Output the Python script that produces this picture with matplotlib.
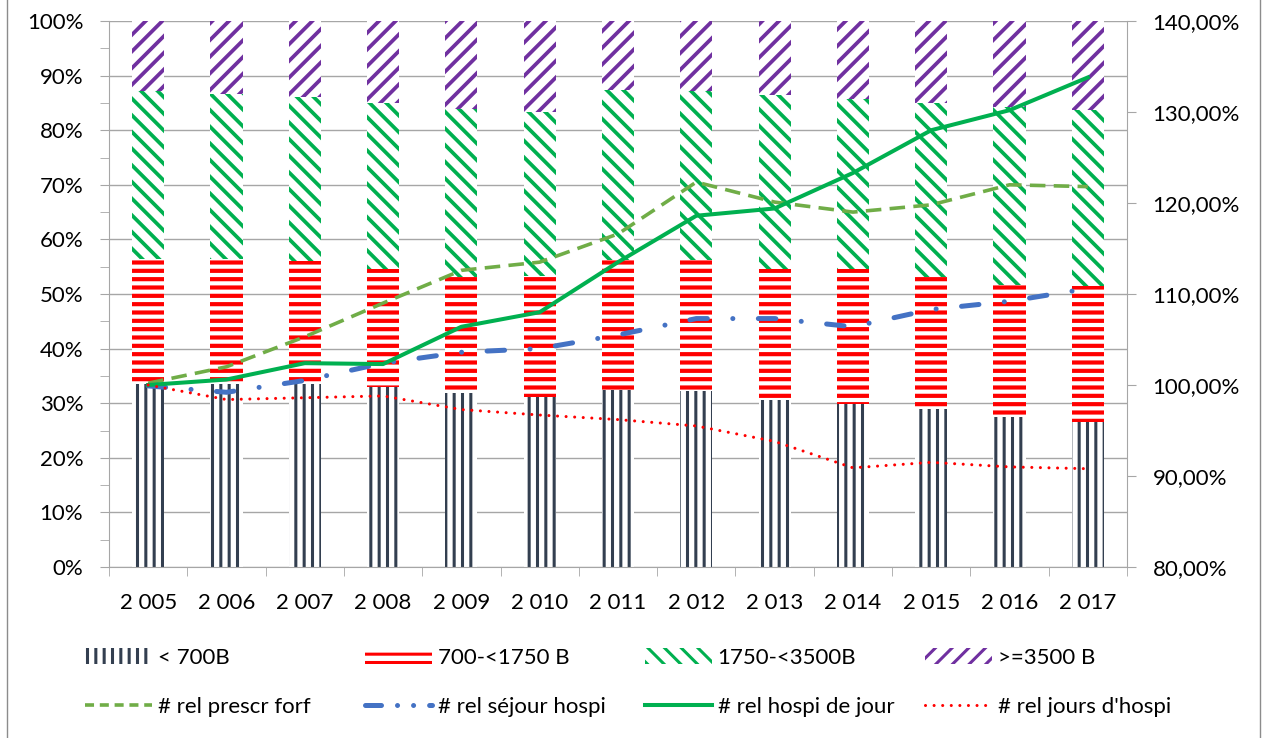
import matplotlib
matplotlib.use('Agg')
import matplotlib.pyplot as plt
from matplotlib.patches import Patch
from matplotlib.lines import Line2D
import numpy as np

plt.rcParams['font.family'] = ['Lato', 'DejaVu Sans']
plt.rcParams['hatch.linewidth'] = 2.2

annees = ['2 005', '2 006', '2 007', '2 008', '2 009', '2 010', '2 011',
          '2 012', '2 013', '2 014', '2 015', '2 016', '2 017']

# parts des classes (en %)
moins700 = [33.5, 33.5, 33.5, 33.0, 31.8, 31.1, 32.4, 32.2, 30.5, 29.9, 28.9, 27.4, 26.6]
de700 = [22.9, 22.9, 22.6, 21.6, 21.4, 22.2, 23.8, 24.0, 24.1, 24.7, 24.3, 24.2, 24.9]
de1750 = [30.8, 30.2, 29.9, 30.4, 30.6, 30.0, 31.2, 31.0, 31.8, 31.2, 31.8, 32.7, 32.2]
plus3500 = [12.8, 13.4, 14.0, 15.0, 16.2, 16.7, 12.6, 12.8, 13.6, 14.2, 15.0, 15.7, 16.3]

# indices relatifs (en %)
rel_prescr = [100.2, 102.0, 105.3, 109.0, 112.6, 113.5, 116.6, 122.3, 120.1, 119.0, 119.8, 122.0, 121.8]
rel_sejour = [99.9, 99.2, 100.5, 102.4, 103.6, 104.0, 105.5, 107.3, 107.3, 106.4, 108.3, 109.2, 110.6]
rel_jour = [100.0, 100.6, 102.4, 102.3, 106.4, 108.0, 113.5, 118.6, 119.4, 123.3, 128.0, 130.2, 133.8]
rel_jours_hospi = [100.0, 98.4, 98.6, 98.8, 97.3, 96.7, 96.2, 95.5, 93.8, 90.9, 91.5, 91.0, 90.8]

noms_barres = ['< 700B', '700-<1750 B', '1750-<3500B', '>=3500 B']
couleurs_barres = ['#333F50', '#FF0000', '#00B050', '#7030A0']
hachures = ['||', '--', '\\\\', '//']
epaisseurs = [2.2, 3.0, 2.7, 2.7]

def hachure_ep(p, ep):
    if hasattr(p, 'set_hatch_linewidth'):
        p.set_hatch_linewidth(ep)

fig = plt.figure(figsize=(12.63, 7.38), dpi=100)
ax = fig.add_axes([109/1263, 171/738, 1018/1263, 546/738])
ax2 = ax.twinx()

x = np.arange(len(annees))
bas = np.zeros(len(annees))
for vals, c, h, ep in zip([moins700, de700, de1750, plus3500], couleurs_barres, hachures, epaisseurs):
    b = ax.bar(x, vals, 0.41, bottom=bas, facecolor='white', edgecolor=c,
               hatch=h, linewidth=0, zorder=2)
    for p in b:
        hachure_ep(p, ep)
    bas = bas + np.array(vals)

grille = '#A6A6A6'
fs = 16
ax.set_xlim(-0.5, len(annees) - 0.5)
ax.set_ylim(0, 100)
ax.set_yticks(np.arange(0, 101, 10))
ax.set_yticks(np.arange(5, 100, 10), minor=True)
ax.set_yticklabels(['%d%%' % v for v in range(0, 101, 10)], fontsize=fs)
ax.yaxis.grid(True, color=grille, linewidth=1)
ax.set_axisbelow(True)
ax.tick_params(axis='y', which='both', direction='out', length=6.5, color=grille, pad=12)
ax.set_xticks(x)
ax.set_xticklabels(annees, fontsize=fs)
ax.set_xticks(np.arange(-0.5, len(annees), 1), minor=True)
ax.tick_params(axis='x', which='major', length=0, pad=19)
ax.tick_params(axis='x', which='minor', direction='out', length=6.5, color=grille)
for s in ['top', 'right']:
    ax.spines[s].set_visible(False)
for s in ['left', 'bottom']:
    ax.spines[s].set_color(grille)

l1, = ax2.plot(x, rel_prescr, color='#70AD47', lw=2.6, linestyle=(0, (4.3, 2.3)))
l2, = ax2.plot(x, rel_sejour, color='#4472C4', lw=3.6, linestyle=(0, (3.5, 5.1, 0.01, 5.1)),
               dash_capstyle='round')
l3, = ax2.plot(x, rel_jour, color='#00B050', lw=2.9)
l4, = ax2.plot(x, rel_jours_hospi, color='#FF0000', lw=2.2, linestyle=(0, (0.01, 2.8)),
               dash_capstyle='round')
ax2.set_ylim(80, 140)
ax2.set_yticks(np.arange(80, 141, 10))
ax2.set_yticklabels(['%d,00%%' % v for v in range(80, 141, 10)], fontsize=fs)
ax2.tick_params(axis='y', direction='out', length=6.5, color=grille, pad=12)
for s in ['top', 'left', 'bottom']:
    ax2.spines[s].set_visible(False)
ax2.spines['right'].set_color(grille)

# légende : quatre colonnes, deux lignes
poignees = []
for c, h, ep in zip(couleurs_barres, hachures, epaisseurs):
    p = Patch(facecolor='white', edgecolor=c, hatch=h, linewidth=0)
    hachure_ep(p, ep)
    poignees.append(p)
poignees += [Line2D([], [], color='#70AD47', lw=2.6, linestyle=(0, (2.5, 1.6))),
             Line2D([], [], color='#4472C4', lw=3.6, linestyle=(0, (3.2, 3.2, 0.01, 3.2, 0.01, 3.2)),
                    dash_capstyle='round'),
             l3, l4]
etiquettes = noms_barres + ['# rel prescr forf', '# rel séjour hospi',
                            '# rel hospi de jour', "# rel jours d'hospi"]
colonnes = [85, 365, 645, 925]
lignes = [658, 707]
for i, (p, t) in enumerate(zip(poignees, etiquettes)):
    fig.legend([p], [t], loc='center left',
               bbox_to_anchor=(colonnes[i % 4] / 1263, 1 - lignes[i // 4] / 738),
               frameon=False, fontsize=fs, borderpad=0, borderaxespad=0,
               handlelength=3.0, handletextpad=0.27, handleheight=0.7)

# cadre du graphique
for xb in [7, 1260]:
    fig.add_artist(Line2D([xb / 1263, xb / 1263], [0, 1], transform=fig.transFigure,
                          color='#8C8C8C', lw=1))

fig.savefig('out.png', dpi=100)
